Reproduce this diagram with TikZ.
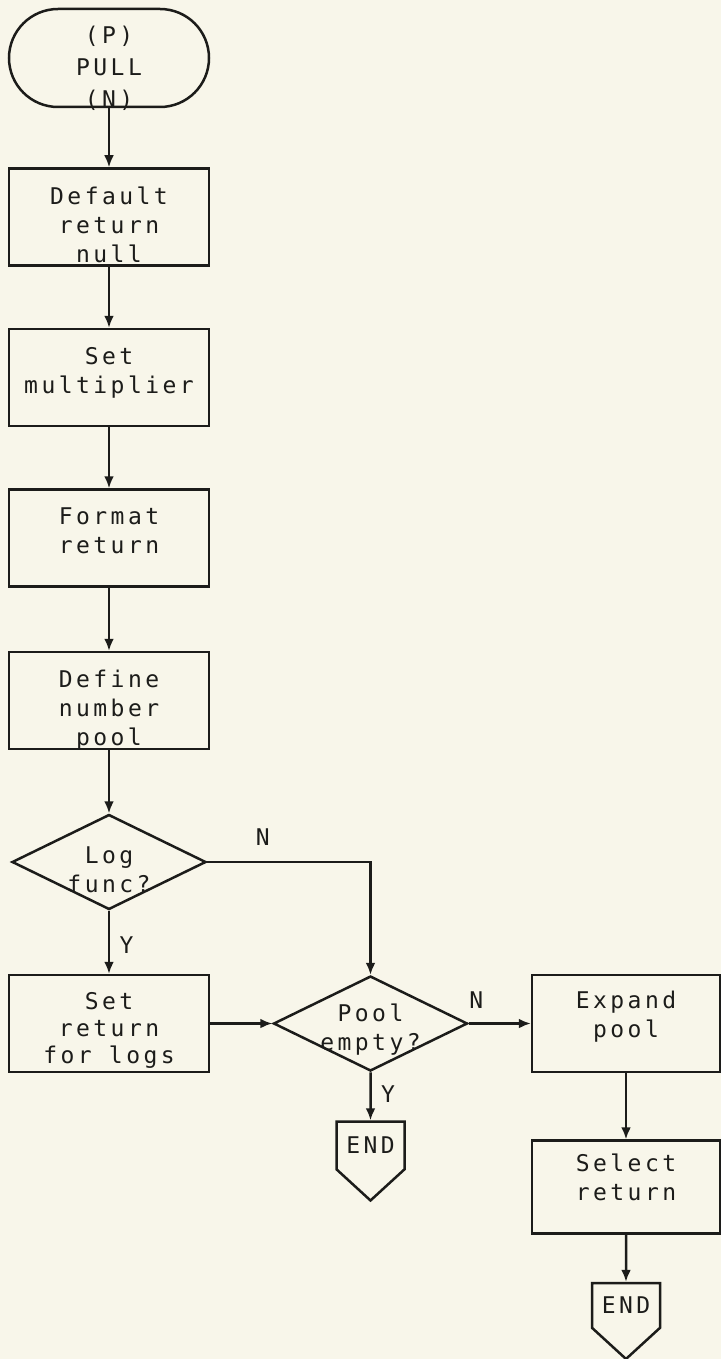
\documentclass[tikz,border=0pt]{standalone}
\usepackage{fontspec}
\newfontfamily\plotfont{DejaVu Sans Mono}[LetterSpace=15]
\usetikzlibrary{arrows.meta,positioning,shapes.geometric,shapes.misc,shapes.symbols}
\definecolor{paper}{RGB}{248,246,234}
\definecolor{ink}{RGB}{28,28,26}
\tikzset{
  flowtext/.style={
    font=\plotfont\fontsize{23}{29}\selectfont, text=ink, align=center
  },
  toptext/.style={flowtext, anchor=north, yshift=#1},
  toptext/.default=-16pt,
  startbox/.style={
    rounded rectangle, draw=ink, line width=2.5pt,
    minimum width=200pt, minimum height=98pt, inner sep=0pt
  },
  procbox/.style={
    rectangle, draw=ink, line width=2.5pt,
    minimum width=#1, minimum height=97pt, inner sep=0pt
  },
  procbox/.default=200pt,
  decision/.style={
    diamond, draw=ink, line width=2.5pt,
    minimum width=194pt, minimum height=95pt, inner sep=0pt
  },
  endbox/.style={
    signal, signal to=south, signal pointer angle=95, draw=ink,
    line width=2.5pt, minimum width=68pt, minimum height=70pt,
    inner sep=0pt, flowtext
  },
  flow/.style={-{Latex[length=12pt,width=10pt]}, line width=2.5pt, draw=ink},
  branch/.style={flowtext}
}

\begin{document}
\begin{tikzpicture}[x=1pt, y=-1pt, node distance=61pt]
\fill[paper] (0,0) rectangle (721,1359);
\useasboundingbox (0,0) rectangle (721,1359);

% left column
\node[startbox, label={[toptext=-15pt, font=\plotfont\fontsize{23}{32}\selectfont]north:(P)\\PULL\\(N)}] (pull) at (109,58) {};
\node[procbox, below=59pt of pull, label={[toptext]north:Default\\return\\null}] (dflt) {};
\node[procbox, below=of dflt, label={[toptext]north:Set\\multiplier}] (mult) {};
\node[procbox, below=of mult, label={[toptext]north:Format\\return}] (fmt) {};
\node[procbox, below=63pt of fmt, label={[toptext]north:Define\\number\\pool}] (numpool) {};
\node[decision, below=63pt of numpool, label={[flowtext, yshift=-8pt]center:Log\\func?}] (logq) {};
\node[procbox, below=63pt of logq, label={[toptext=-15pt, font=\plotfont\fontsize{23}{27}\selectfont]north:Set\\return\\for logs}] (logret) {};

% pool test and right column
\node[decision, right=62pt of logret, label={[flowtext, yshift=-6pt]center:Pool\\empty?}] (poolq) {};
\node[procbox=188pt, right=62pt of poolq, label={[toptext=-14pt]north:Expand\\pool}] (expand) {};
\node[procbox=188pt, below=66pt of expand, minimum height=93pt, label={[toptext=-11pt]north:Select\\return}] (select) {};
\node[endbox, below=48pt of poolq] (end1) {END};
\node[endbox, below=47pt of select, minimum height=67pt] (end2) {END};

% connectors
\draw[flow] (pull) -- (dflt);
\draw[flow] (dflt) -- (mult);
\draw[flow] (mult) -- (fmt);
\draw[flow] (fmt) -- (numpool);
\draw[flow] (numpool) -- (logq);
\draw[flow] (logq) -- node[branch, right=6pt, pos=0.55] {Y} (logret);
\draw[flow] (logq.east) -| node[branch, pos=0.17, above=12pt] {N} (poolq.north);
\draw[flow] (logret) -- (poolq);
\draw[flow] (poolq) -- node[branch, pos=0.12, above=10pt] {N} (expand);
\draw[flow] (poolq) -- node[branch, right=6pt, pos=0.45] {Y} (end1);
\draw[flow] (expand) -- (select);
\draw[flow] (select) -- (end2);

\end{tikzpicture}
\end{document}
